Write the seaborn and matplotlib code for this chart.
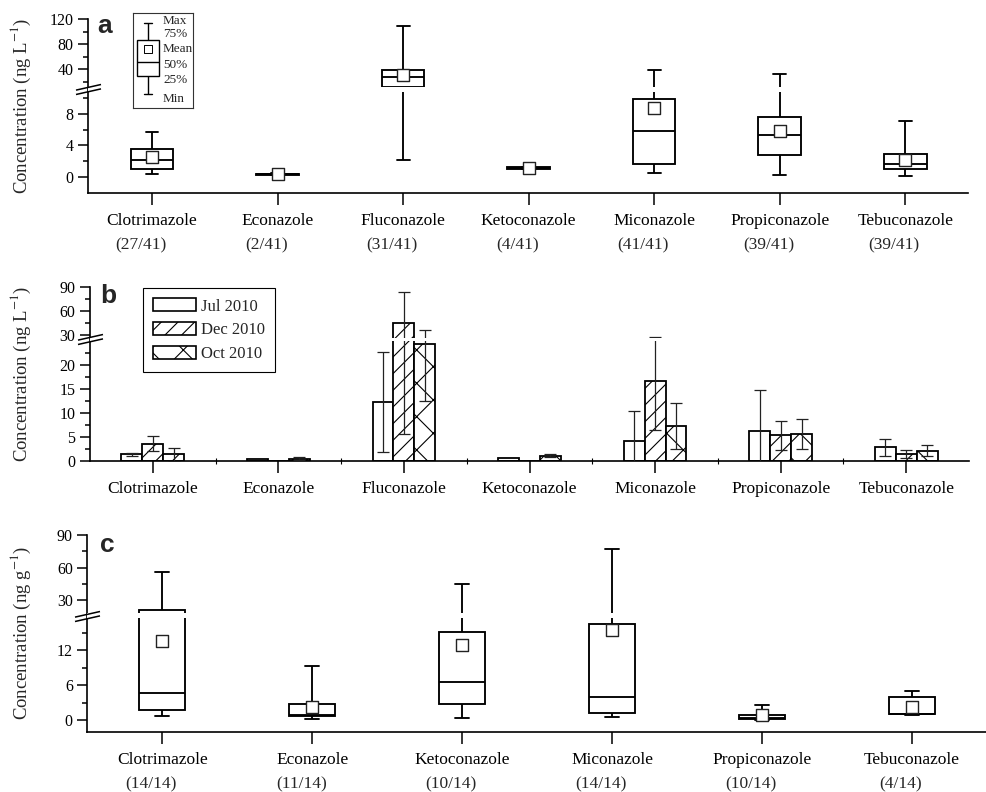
import numpy as np
import pandas as pd
import matplotlib
matplotlib.use("Agg")
import matplotlib.pyplot as plt
import matplotlib.patches as mpatches
import matplotlib.ticker as mticker
import matplotlib.transforms as mtrans
from matplotlib.path import Path
import seaborn as sns

# ------------------------------------------------------------------ #
# (a) water, boxes: min, 25%, 50%, 75%, max  +  mean
DRUGS_A = ["Clotrimazole", "Econazole", "Fluconazole", "Ketoconazole",
           "Miconazole", "Propiconazole", "Tebuconazole"]
FREQ_A = ["(27/41)", "(2/41)", "(31/41)", "(4/41)", "(41/41)", "(39/41)", "(39/41)"]
MIN_A = [0.33, 0.20, 2.1, 0.95, 0.54, 0.29, 0.08]
Q1_A = [1.05, 0.28, 12.2, 1.05, 1.6, 2.82, 1.01]
MED_A = [2.19, 0.33, 27.0, 1.10, 5.77, 5.27, 1.6]
Q3_A = [3.58, 0.38, 39.0, 1.20, 9.91, 7.63, 2.95]
MAX_A = [5.7, 0.45, 110.0, 1.30, 38.3, 32.0, 7.04]
MEAN_A = [2.53, 0.40, 30.0, 1.15, 8.8, 5.82, 2.1]

# (b) water, sampling campaigns: mean and SD
DRUGS_B = DRUGS_A
PERIODS = ["Jul 2010", "Dec 2010", "Oct 2010"]
JUL_MEAN = [1.4, 0.4, 12.3, 0.7, 4.2, 6.3, 2.85]
JUL_SD = [0.3, 0.0, 10.4, 0.0, 6.3, 8.5, 1.8]
DEC_MEAN = [3.6, 0.0, 44.5, 0.0, 16.7, 5.4, 1.46]
DEC_SD = [1.6, 0.0, 38.8, 0.0, 10.3, 3.05, 0.9]
OCT_MEAN = [1.4, 0.5, 24.4, 1.1, 7.3, 5.6, 2.15]
OCT_SD = [1.4, 0.3, 11.8, 0.3, 4.9, 3.2, 1.15]

# (c) sediment, boxes
DRUGS_C = ["Clotrimazole", "Econazole", "Ketoconazole", "Miconazole",
           "Propiconazole", "Tebuconazole"]
FREQ_C = ["(14/14)", "(11/14)", "(10/14)", "(14/14)", "(10/14)", "(4/14)"]
MIN_C = [0.63, 0.12, 0.35, 0.46, 0.10, 0.95]
Q1_C = [1.66, 0.70, 2.69, 1.27, 0.12, 0.98]
MED_C = [4.7, 0.90, 6.58, 3.95, 0.40, 1.0]
Q3_C = [21.1, 2.7, 15.16, 16.5, 0.80, 4.0]
MAX_C = [55.9, 9.38, 45.0, 76.8, 2.52, 4.98]
MEAN_C = [13.7, 2.2, 13.0, 15.56, 0.93, 2.3]

# legend glyph of panel a
LEG_STATS = [1.5, 3.4, 4.84, 7.2, 8.95]
LEG_MEAN = 6.2
LEG_LABELS = ["Max", "75%", "Mean", "50%", "25%", "Min"]
LEG_LABEL_Y = [9.2, 7.8, 6.25, 4.6, 3.0, 1.0]
# ------------------------------------------------------------------ #

sns.set_style("ticks")
plt.rcParams.update({
    "font.family": ["Liberation Serif", "DejaVu Serif"],
    "mathtext.fontset": "stix",
    "axes.linewidth": 1.2,
    "xtick.major.width": 1.1,
    "ytick.major.width": 1.1,
    "ytick.minor.width": 1.1,
    "xtick.minor.width": 1.1,
    "xtick.major.size": 8.5,
    "xtick.major.pad": 6,
    "ytick.major.size": 7,
    "ytick.minor.size": 3.5,
    "xtick.direction": "out",
    "ytick.direction": "out",
    "xtick.color": "black",
    "ytick.color": "black",
    "axes.edgecolor": "black",
    "hatch.linewidth": 0.8,
    "hatch.color": "black",
})

BREAK_MARK = Path([(-1, -0.4), (1, 0.05), (-1, -0.05), (1, 0.4)],
                  [Path.MOVETO, Path.LINETO, Path.MOVETO, Path.LINETO])


def make_scale(b, r):
    def fwd(v):
        v = np.asarray(v, dtype=float)
        return np.where(v <= b, v, b + (v - b) * r)

    def inv(u):
        u = np.asarray(u, dtype=float)
        return np.where(u <= b, u, b + (u - b) / r)
    return fwd, inv


def broken_y(ax, brk, r, ylim, major, minor, gap):
    fwd, inv = make_scale(brk, r)
    ax.set_yscale("function", functions=(fwd, inv))
    ax.set_ylim(*ylim)
    ax.yaxis.set_major_locator(mticker.FixedLocator(major))
    ax.yaxis.set_minor_locator(mticker.FixedLocator(minor))
    ax.yaxis.set_major_formatter(mticker.FormatStrFormatter("%g"))
    ax.yaxis.set_minor_formatter(mticker.NullFormatter())
    lo, hi = float(inv(brk + gap[0])), float(inv(brk + gap[1]))
    ax.axhspan(lo, hi, color="white", lw=0, zorder=6)
    mid = float(inv(brk + (gap[0] + gap[1]) / 2))
    blend = mtrans.blended_transform_factory(ax.transAxes, ax.transData)
    ax.plot([0], [mid], transform=blend, ls="none", marker=BREAK_MARK,
            ms=18, mec="black", mew=1.1, clip_on=False, zorder=8)
    ax.tick_params(axis="y", labelsize=11.5, which="both")
    ax.tick_params(axis="x", labelsize=12.5)
    sns.despine(ax=ax)


def shrink_caps(ax, width, frac):
    for ln in ax.lines:
        x = np.asarray(ln.get_xdata(), float)
        y = np.asarray(ln.get_ydata(), float)
        if len(x) == 2 and y[0] == y[1] and np.isclose(x[1] - x[0], 0.5 * width):
            c = x.mean()
            ln.set_xdata([c - frac * width / 2, c + frac * width / 2])


def box_frame(drugs, mins, q1, med, q3, maxs):
    rows = []
    for d, a, b, c, e, f in zip(drugs, mins, q1, med, q3, maxs):
        for v in (a, b, c, e, f):
            rows.append({"drug": d, "value": v})
    return pd.DataFrame(rows)


def box_panel(ax, drugs, stats, means, width):
    df = box_frame(drugs, *stats)
    sns.boxplot(data=df, x="drug", y="value", order=drugs, whis=(0, 100),
                width=width, color="white", linecolor="black", linewidth=1.35,
                showfliers=False, saturation=1, ax=ax)
    shrink_caps(ax, width, 0.3)
    sns.scatterplot(x=drugs, y=means, marker="s", s=85, color="white",
                    edgecolor="#222222", linewidth=1.0, zorder=4, ax=ax)


def counts(ax, freqs, dy):
    for i, f in enumerate(freqs):
        ax.annotate(f, xy=(i, 0), xycoords=("data", "axes fraction"),
                    xytext=(-8, dy), textcoords="offset points",
                    ha="center", va="center", fontsize=12.5)


fig = plt.figure(figsize=(9.87, 7.92), dpi=100)
ax_a = fig.add_axes([0.0892, 0.7567, 0.8915, 0.2189])
ax_b = fig.add_axes([0.0912, 0.418, 0.8906, 0.220])
ax_c = fig.add_axes([0.0885, 0.0761, 0.9115, 0.2484])

# ---------------- (a)
box_panel(ax_a, DRUGS_A, (MIN_A, Q1_A, MED_A, Q3_A, MAX_A), MEAN_A, 0.34)
broken_y(ax_a, 11.41, 0.0791, (-2, 120), [0, 4, 8, 40, 80, 120],
         [2, 6, 10, 20, 60, 100], (-0.6, 0.0))
ax_a.set_xlim(-0.51, 6.5)
ax_a.set_xlabel("")
ax_a.set_ylabel("Concentration (ng L$^{-1}$)", fontsize=13.5)
ax_a.yaxis.set_label_coords(-0.0625, 0.5)
counts(ax_a, FREQ_A, -38)
ax_a.text(0.0102, 0.919, "a", transform=ax_a.transAxes, fontsize=19,
          fontweight="bold", family="Liberation Sans", va="baseline")

# legend glyph
lax = fig.add_axes([0.1344, 0.8633, 0.0614, 0.12])
sns.boxplot(y=LEG_STATS, whis=(0, 100), width=1.42, color="white",
            linecolor="black", linewidth=1.0, saturation=1, ax=lax)
shrink_caps(lax, 1.42, 0.35)
sns.scatterplot(x=[0], y=[LEG_MEAN], marker="s", s=30, color="white",
                edgecolor="black", linewidth=0.7, zorder=4, ax=lax)
lax.set_xlim(-1.0, 2.9)
lax.set_ylim(0, 10)
lax.set_xticks([])
lax.set_yticks([])
lax.set_xlabel("")
lax.set_ylabel("")
for s in lax.spines.values():
    s.set_visible(True)
    s.set_linewidth(0.8)
    s.set_color("#333333")
for lab, yv in zip(LEG_LABELS, LEG_LABEL_Y):
    lax.text(0.95, yv, lab, fontsize=9.5, va="center", ha="left")

# ---------------- (b)
dfb = pd.DataFrame({
    "drug": DRUGS_B * 3,
    "period": sum([[p] * len(DRUGS_B) for p in PERIODS], []),
    "mean": JUL_MEAN + DEC_MEAN + OCT_MEAN,
})
sds = [JUL_SD, DEC_SD, OCT_SD]
hatches = ["", "//", "x"]
sns.barplot(data=dfb, x="drug", y="mean", hue="period", order=DRUGS_B,
            hue_order=PERIODS, palette=["white"] * 3, saturation=1,
            width=0.5, errorbar=None, edgecolor="black", linewidth=1.3,
            legend=False, ax=ax_b)
bar_groups = list(ax_b.containers)
for cont, h, sd in zip(bar_groups, hatches, sds):
    xs, ys, es = [], [], []
    for bar, e in zip(cont, sd):
        bar.set_hatch(h)
        if e > 0:
            xs.append(bar.get_x() + bar.get_width() / 2)
            ys.append(bar.get_height())
            es.append(e)
    ax_b.errorbar(xs, ys, yerr=es, fmt="none", ecolor="#222222",
                  elinewidth=0.9, capsize=4.5, capthick=0.9, zorder=3)
broken_y(ax_b, 25.7, 0.1667, (0, 90), [0, 5, 10, 15, 20, 30, 60, 90],
         [2.5, 7.5, 12.5, 17.5, 22.5, 45, 75], (-0.6, 0.0))
ax_b.set_xlim(-0.5, 6.5)
ax_b.xaxis.set_minor_locator(mticker.FixedLocator(np.arange(0.5, 6, 1.0)))
ax_b.tick_params(axis="x", which="minor", direction="inout", length=4, width=0.8)
ax_b.set_xlabel("")
ax_b.set_ylabel("Concentration (ng L$^{-1}$)", fontsize=13.5)
ax_b.yaxis.set_label_coords(-0.065, 0.5)
ax_b.text(0.0114, 0.905, "b", transform=ax_b.transAxes, fontsize=19,
          fontweight="bold", family="Liberation Sans", va="baseline")
handles = [mpatches.Patch(facecolor="white", edgecolor="black", hatch=h,
                          linewidth=1.2, label=p)
           for h, p in zip(hatches, PERIODS)]
leg = ax_b.legend(handles=handles, loc="upper left", bbox_to_anchor=(0.06, 0.99),
                  borderaxespad=0, fontsize=12, frameon=True, fancybox=False,
                  framealpha=1, edgecolor="black", handlelength=2.6,
                  handleheight=0.8, labelspacing=0.45, borderpad=0.6,
                  handletextpad=0.3)
leg.get_frame().set_linewidth(0.8)
leg.set_zorder(10)

# ---------------- (c)
box_panel(ax_c, DRUGS_C, (MIN_C, Q1_C, MED_C, Q3_C, MAX_C), MEAN_C, 0.307)
broken_y(ax_c, 18.5, 0.187, (-2, 90), [0, 6, 12, 30, 60, 90],
         [3, 9, 15, 45, 75], (-1.0, 0.0))
ax_c.set_xlim(-0.5, 5.5)
ax_c.set_xlabel("")
ax_c.set_ylabel("Concentration (ng g$^{-1}$)", fontsize=13.5)
ax_c.yaxis.set_label_coords(-0.060, 0.5)
counts(ax_c, FREQ_C, -38)
ax_c.text(0.014, 0.915, "c", transform=ax_c.transAxes, fontsize=19,
          fontweight="bold", family="Liberation Sans", va="baseline")

fig.savefig("out.png", dpi=100)
